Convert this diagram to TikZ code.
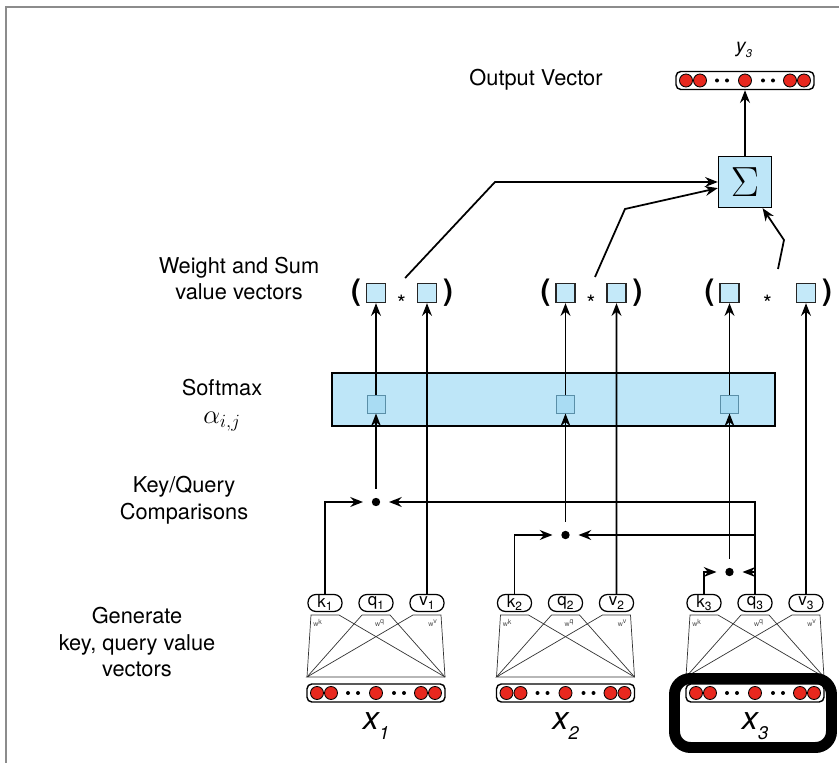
\documentclass[tikz,border=0pt]{standalone}
\usepackage{fix-cm}
\usepackage[no-math]{fontspec}
\setmainfont{TeX Gyre Heros}
\usepackage{tikz}
\usetikzlibrary{arrows.meta,calc}
\usepackage{xcolor}
\definecolor{cellred}{HTML}{E8281E}
\definecolor{valblue}{HTML}{C4E9F9}
\definecolor{smblue}{HTML}{A9DCF3}
\definecolor{smedge}{HTML}{5A8FA8}
\definecolor{boxblue}{HTML}{BEE6F8}

\begin{document}
\begin{tikzpicture}[
    font=\fontsize{15.5}{19}\selectfont,
    arr/.style={-{Stealth[length=9pt,width=7pt]}, line width=1.25pt},
    wline/.style={line width=0.5pt, black!80},
    pill/.style={draw, line width=0.9pt, rounded corners=0.2cm, minimum width=0.85cm,
                 minimum height=0.425cm, inner sep=0pt, font=\fontsize{12}{12}\selectfont},
    vecbox/.style={draw, line width=1pt, rounded corners=0.12cm, minimum width=3.45cm,
                   minimum height=0.45cm, inner sep=0pt},
    cell/.style={draw=black, line width=0.6pt, fill=cellred},
    cmpdot/.style={circle, fill=black, inner sep=0pt, minimum size=0.21cm, outer sep=0.22cm},
    valsq/.style={draw=black!85, line width=1pt, fill=valblue, minimum size=0.475cm, inner sep=0pt},
    smsq/.style={draw=smedge, line width=0.7pt, fill=smblue, minimum size=0.45cm, inner sep=0pt},
    paren/.style={font=\fontsize{21}{21}\selectfont\bfseries, inner sep=0pt},
    starlab/.style={font=\fontsize{16}{16}\selectfont, inner sep=0pt},
    wlab/.style={font=\fontsize{5}{5}\selectfont, text=black!70, inner sep=0pt},
    xlab/.style={font=\fontsize{23}{23}\selectfont\itshape, inner sep=0pt}
  ]
    \useasboundingbox (0,0) rectangle (20.975,19.075);
    % frame, only left and top edges are in view
    \draw[black!45, line width=1.2pt] (0.15,0) -- (0.15,18.9) -- (20.975,18.9);

    \node (lblout) at (13.4,17.075) {Output Vector};
    \node[align=center] (lblsum) at (5.975,12.1125) {Weight and Sum\\value vectors};
    \node[align=center] (lblsm) at (5.55,8.95) {Softmax\\[1pt]\fontsize{19}{19}\selectfont$\alpha_{i,j}$};
    \node[align=center] (lblcmp) at (4.6,6.5625) {Key/Query\\Comparisons};
    \node[align=center] (lblgen) at (3.425,3.0175) {Generate\\key, query value\\vectors};

    % one block per input token
    \foreach \g/\qx in {1/9.4, 2/14.1375, 3/18.875} {
      \node[pill] (k\g) at (\qx-1.275,4) {k\raisebox{-2.5pt}{\fontsize{8.5}{8.5}\selectfont\g}};
      \node[pill] (q\g) at (\qx,4) {q\raisebox{-2.5pt}{\fontsize{8.5}{8.5}\selectfont\g}};
      \node[pill] (v\g) at (\qx+1.275,4) {v\raisebox{-2.5pt}{\fontsize{8.5}{8.5}\selectfont\g}};
      \draw[wline] (\qx-1.725,2.15) -- (\qx-1.625,3.7) -- (\qx-0.925,3.7) -- (\qx+1.725,2.15);
      \draw[wline] (\qx-1.725,2.15) -- (\qx-0.35,3.7) -- (\qx+0.35,3.7) -- (\qx+1.725,2.15);
      \draw[wline] (\qx-1.725,2.15) -- (\qx+0.925,3.7) -- (\qx+1.625,3.7) -- (\qx+1.725,2.15) -- cycle;
      \node[wlab] (wk\g) at (\qx-1.45,3.5) {w\textsuperscript{k}};
      \node[wlab] (wq\g) at (\qx+0.1,3.5) {w\textsuperscript{q}};
      \node[wlab] (wv\g) at (\qx+1.425,3.5) {w\textsuperscript{v}};
      \node[vecbox] (xv\g) at (\qx,1.75) {};
      \foreach \d in {-1.475,-1.125,0,1.125,1.475}
        \draw[cell] ([xshift=\d cm]xv\g) circle (0.1625);
      \foreach \d in {-0.7,-0.45,0.45,0.7}
        \fill ([xshift=\d cm]xv\g) circle (0.05);
      \node[xlab, anchor=base] (xl\g) at (\qx,0.825) {x\raisebox{-7pt}{\fontsize{13}{13}\selectfont\g}};
    }
    \draw[line width=7.8pt, rounded corners=0.4cm] (16.8625,0.3875) rectangle (20.7875,2.1125);

    % key/query comparisons
    \node[cmpdot] (c1) at (9.4,6.525) {};
    \node[cmpdot] (c2) at (14.1375,5.7) {};
    \node[cmpdot] (c3) at (18.2375,4.775) {};
    \draw[arr] (k1) |- (c1);
    \draw[arr] (k2) |- (c2);
    \draw[arr] (k3) |- (c3);
    \draw[arr] (q3) |- (c1);
    \draw[arr] (q3) |- (c2);
    \draw[arr] (q3) |- (c3);

    \node[draw, line width=1pt, fill=boxblue, minimum width=11.075cm, minimum height=1.325cm]
      (smax) at (13.8375,9.0875) {};
    \node[smsq] (s1) at (9.4,8.975) {};
    \node[smsq] (s2) at (14.1375,8.975) {};
    \node[smsq] (s3) at (18.2375,8.975) {};

    % weighted values
    \node[valsq] (w1) at (9.4,11.75) {};
    \node[valsq] (u1) at (10.675,11.75) {};
    \node[valsq] (w2) at (14.1375,11.75) {};
    \node[valsq] (u2) at (15.4125,11.75) {};
    \node[valsq] (w3) at (18.2375,11.75) {};
    \node[valsq] (u3) at (20.15,11.75) {};
    \node[starlab] (st1) at (10.0375,11.5) {*};
    \node[starlab] (st2) at (14.775,11.5) {*};
    \node[starlab] (st3) at (19.19,11.5) {*};
    \node[paren] (lp1) at (8.9,11.75) {(};
    \node[paren] (rp1) at (11.2,11.75) {)};
    \node[paren] (lp2) at (13.6375,11.75) {(};
    \node[paren] (rp2) at (15.9375,11.75) {)};
    \node[paren] (lp3) at (17.7375,11.75) {(};
    \node[paren] (rp3) at (20.675,11.75) {)};

    \draw[arr] (c1) -- (s1);
    \draw[arr] (c2) -- (s2);
    \draw[arr] (c3) -- (s3);
    \draw[arr] (s1) -- (w1);
    \draw[arr] (s2) -- (w2);
    \draw[arr] (s3) -- (w3);
    \draw[arr] (v1) -- (u1);
    \draw[arr] (v2) -- (u2);
    \draw[arr] (v3) -- (u3);

    \node[draw, line width=1pt, fill=boxblue, minimum width=1.325cm, minimum height=1.275cm,
          font=\fontsize{30}{30}\selectfont] (sig) at (18.625,14.525) {$\Sigma$};

    \coordinate (tail1) at ($(st1)+(0.09,0.625)$);
    \coordinate (tail2) at ($(st2)+(0.1,0.65)$);
    \coordinate (tail3) at ($(st3)+(0.26,0.85)$);
    \coordinate (knee1) at (12.375,14.525);
    \coordinate (knee2) at (15.625,13.85);
    \coordinate (knee3) at (19.6,13.075);
    \draw[arr] (tail1) -- (knee1) -- (sig);
    \draw[arr] (tail2) -- (knee2) -- (sig);
    \draw[arr] (tail3) -- (knee3) -- (sig);

    % output
    \node[vecbox] (yv) at (18.625,17.0625) {};
    \foreach \d in {-1.475,-1.125,0,1.125,1.475}
      \draw[cell] ([xshift=\d cm]yv) circle (0.1625);
    \foreach \d in {-0.7,-0.45,0.45,0.7}
      \fill ([xshift=\d cm]yv) circle (0.05);
    \node[font=\fontsize{14}{14}\selectfont\itshape, anchor=base, inner sep=0pt] (ylab)
      at (18.6,17.75) {y\raisebox{-3pt}{\fontsize{8}{8}\selectfont 3}};
    \draw[arr] (sig) -- (yv);
  \end{tikzpicture}
\end{document}
